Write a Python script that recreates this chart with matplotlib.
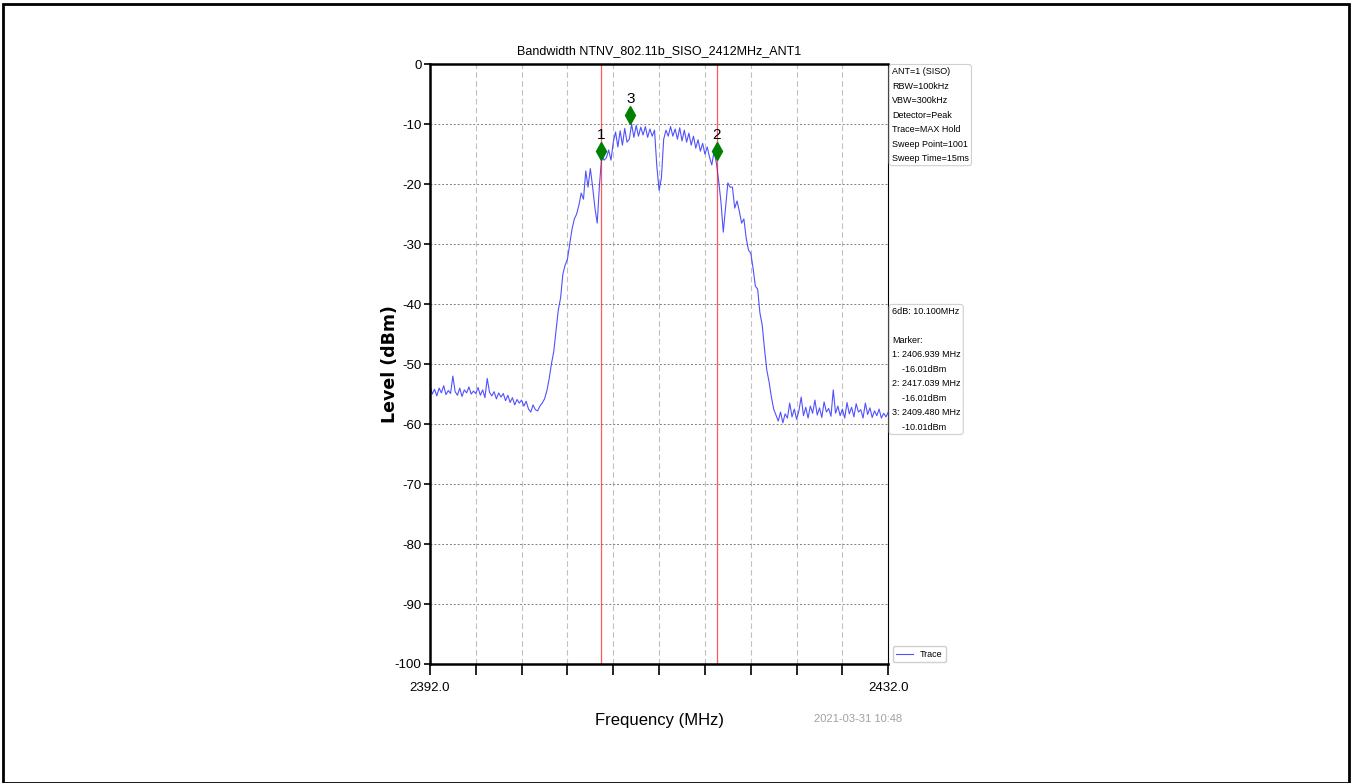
import numpy as np
import matplotlib
matplotlib.use('Agg')
import matplotlib.pyplot as plt
from matplotlib.patches import Rectangle

plt.rcParams['axes.unicode_minus'] = False
NARROW = ['Liberation Sans', 'DejaVu Sans']

# sweep range
f_start = 2392.0
f_stop = 2432.0

# trace levels (dBm), every 0.2 MHz
floor_left = [-53.5, -55.0, -54.2, -55.3, -54.0, -54.8, -53.6, -55.1, -54.4, -54.9,
              -52.0, -54.6, -55.2, -54.0, -55.4, -54.3, -54.8, -53.8, -55.0, -54.5,
              -54.9, -53.9, -55.2, -54.3, -55.6, -52.4, -54.7, -55.3, -54.6, -55.8,
              -54.8, -55.5, -54.9, -56.1, -55.2, -56.4, -55.6, -56.8, -55.9, -56.5,
              -56.0, -57.0, -56.2, -57.5, -58.0, -56.8, -57.6, -57.8, -57.0, -56.5]
rise = [-55.8, -54.5, -52.5, -50.0, -48.0, -44.5, -41.0, -39.0, -35.0, -33.5,
        -32.5, -30.0, -27.5, -25.8, -25.0, -23.5, -21.5, -22.5, -17.8, -20.5,
        -17.4, -20.5, -24.0, -26.5, -20.0]
top = [-15.2, -16.0, -15.6, -14.3, -16.0, -13.0, -11.3, -13.8, -11.1, -13.5,
       -10.7, -13.0, -12.5, -10.0, -12.2, -10.2, -12.0, -10.5, -11.8, -10.4,
       -12.2, -10.8, -12.0, -11.0, -17.0, -21.0, -19.0, -12.5, -11.0, -12.0,
       -10.4, -12.0, -10.8, -12.5, -10.6, -12.8, -11.0, -13.0, -11.5, -13.5,
       -12.0, -14.0, -12.6, -14.5, -13.2, -15.0, -13.8, -15.5, -16.8, -14.5,
       -16.5]
fall = [-19.5, -23.0, -28.0, -23.8, -19.8, -20.5, -20.5, -24.0, -22.8, -24.5,
        -26.5, -25.8, -29.0, -31.0, -31.5, -34.0, -37.0, -37.5, -41.5, -43.5,
        -47.5, -51.0, -53.0, -55.5, -57.5]
floor_right = [-58.5, -59.5, -58.0, -59.8, -58.3, -59.0, -56.5, -58.8, -57.5, -59.2,
               -57.8, -55.5, -58.6, -57.2, -59.0, -57.0, -58.2, -56.0, -58.5, -57.3,
               -58.9, -56.3, -58.0, -57.4, -58.7, -54.3, -58.2, -57.0, -58.6, -57.5,
               -59.0, -56.4, -58.3, -57.2, -58.8, -56.6, -58.0, -57.6, -59.0, -56.5,
               -58.4, -57.3, -58.9, -57.8, -58.6, -57.5, -59.0, -58.2, -58.8, -58.0]

level = np.array(floor_left + rise + top + fall + floor_right)
freq = np.linspace(f_start, f_stop, len(level))

# markers
marker_freq = [2406.939, 2417.039, 2409.480]
marker_level = [-16.01, -16.01, -10.01]
marker_names = ['1', '2', '3']

info_top = ['ANT=1 (SISO)', 'RBW=100kHz', 'VBW=300kHz', 'Detector=Peak',
            'Trace=MAX Hold', 'Sweep Point=1001', 'Sweep Time=15ms']
info_bottom = ['6dB: 10.100MHz', '', 'Marker:',
               '1: 2406.939 MHz', '    -16.01dBm',
               '2: 2417.039 MHz', '    -16.01dBm',
               '3: 2409.480 MHz', '    -10.01dBm']

fig = plt.figure(figsize=(13.52, 7.83), dpi=100)
fig.patches.append(Rectangle((0.002, 0.0), 0.996, 0.995, transform=fig.transFigure,
                             fill=False, edgecolor='black', linewidth=2))

ax = fig.add_axes([0.318, 0.152, 0.339, 0.766])

# grid
ax.set_xticks(np.arange(f_start, f_stop + 0.1, 4.0))
ax.set_xticklabels(['2392.0'] + [''] * 9 + ['2432.0'], family=NARROW, fontsize=9.5)
ax.set_yticks(np.arange(-100, 1, 10))
ax.set_yticklabels([str(v) for v in range(-100, 1, 10)], family=NARROW, fontsize=9.5)
ax.grid(axis='x', color='#c0c0c0', linestyle=(0, (5, 3)), linewidth=0.8)
ax.grid(axis='y', color='#808080', linestyle=(0, (2, 2)), linewidth=0.7)
ax.tick_params(axis='x', direction='out', length=8, width=1.2, pad=5)
ax.tick_params(axis='y', direction='out', length=4, width=1.2, pad=2)

for s in ['left', 'bottom', 'top']:
    ax.spines[s].set_linewidth(1.8)
ax.spines['right'].set_linewidth(0.8)

ax.plot(freq, level, color='#3333ff', linewidth=0.8, alpha=0.85, label='Trace')

# marker lines and diamonds
for f in marker_freq[:2]:
    ax.axvline(f, color='#ff0000', linewidth=0.9, alpha=0.65)
shift = matplotlib.transforms.ScaledTranslation(0, 9 / 100, fig.dpi_scale_trans)
for f, l, n in zip(marker_freq, marker_level, marker_names):
    ax.plot([f], [l], marker='d', color='#008000', markersize=9, linestyle='none',
            transform=ax.transData + shift)
    ax.annotate(n, xy=(f, l), xytext=(0, 13), textcoords='offset points',
                ha='center', va='bottom', fontsize=11, family=NARROW)

ax.set_xlim(f_start, f_stop)
ax.set_ylim(-100, 0)

ax.set_title('Bandwidth NTNV_802.11b_SISO_2412MHz_ANT1', family=NARROW, fontsize=9, pad=7)
ax.set_xlabel('Frequency (MHz)', family=NARROW, fontsize=12, labelpad=14)
ax.set_ylabel('Level (dBm)', fontweight='bold', fontsize=12.5)
ax.yaxis.set_label_coords(-0.068, 0.5)

# side info boxes
box = dict(boxstyle='round,pad=0.3', facecolor='white', edgecolor='#d0d0d0', linewidth=0.8)
ax.text(1.008, 0.995, '\n'.join(info_top), transform=ax.transAxes, ha='left', va='top',
        family=NARROW, fontsize=6.5, linespacing=1.78, bbox=box)
ax.text(1.008, 0.595, '\n'.join(info_bottom), transform=ax.transAxes, ha='left', va='top',
        family=NARROW, fontsize=6.5, linespacing=1.78, bbox=box)

leg = ax.legend(loc='lower left', bbox_to_anchor=(1.0, -0.005), prop={'family': NARROW, 'size': 6.5},
                handlelength=1.8, fancybox=True, framealpha=1, edgecolor='#d0d0d0')

fig.text(0.667, 0.082, '2021-03-31 10:48', color='#a0a0a0', ha='right', va='center',
         family=NARROW, fontsize=8)

fig.savefig('out.png', dpi=100)
